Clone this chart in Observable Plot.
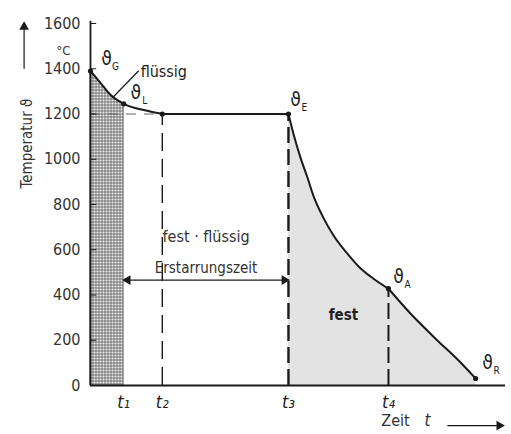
<!DOCTYPE html>
<html><head><meta charset="utf-8">
<script src="https://cdn.jsdelivr.net/npm/d3@7"></script>
<script src="https://cdn.jsdelivr.net/npm/@observablehq/plot@0.6"></script>
<style>body{margin:0;background:#fff}</style>
</head><body><div id="chart"></div>
<script>
// ---- data ----
const timeT = [0, 2.4, 4.8, 8, 13.7, 17.3, 47.7, 48.9, 50.6, 52.3, 53.7, 56.1, 58.6, 61.9, 65.1, 68.2, 71.8, 77.1, 83.6, 88.4, 92.8];
const tempC = [1390, 1338, 1285, 1245, 1214, 1200, 1200, 1113, 1007, 918, 839, 742, 662, 583, 517, 472, 428, 318, 199, 116, 31];
const tNames = ["t₁", "t₂", "t₃", "t₄"];
const tValues = [8, 17.3, 47.7, 71.8];
const yTicks = [0, 200, 400, 600, 800, 1000, 1200, 1400, 1600];
const pointNames = ["G", "L", "E", "A", "R"];
const pointT = [0, 8, 47.7, 71.8, 92.8];
const pointTemp = [1390, 1245, 1200, 428, 31];
const cornerT = [17.3];
const cornerTemp = [1200];
const leaderT = [5.3, 11.6];
const leaderTemp = [1272, 1391];
const arrowTemp = 466;
const festTemp = 309;

const rows = timeT.map((t, i) => ({t, v: tempC[i]}));
const iE = timeT.indexOf(tValues[2]);
const iA = timeT.indexOf(tValues[3]);
const seg1 = rows.slice(0, 6);
const seg2 = rows.slice(5, iE + 1);
const seg3 = rows.slice(iE, iA + 1);
const seg4 = rows.slice(iA);
const stippleRows = rows.filter(d => d.t <= tValues[0]);
const dots = pointT.map((t, i) => ({t, v: pointTemp[i]})).concat(cornerT.map((t, i) => ({t, v: cornerTemp[i]})));

const ink = "#1a1a1a";
const offsets = {G: [16, -12], L: [12, -11], E: [7, -14], A: [10, -12], R: [12, -16]};
const labelMarks = pointNames.flatMap((n, i) => {
  const [dx, dy] = offsets[n];
  const d = [{t: pointT[i], v: pointTemp[i]}];
  return [
    Plot.text(d, {x: "t", y: "v", text: () => "ϑ", dx, dy, fontSize: 19, fill: ink}),
    Plot.text(d, {x: "t", y: "v", text: () => n, dx: dx + 9, dy: dy + 8, fontSize: 10, fill: ink})
  ];
});
const midT = (tValues[0] + tValues[2]) / 2;
const xMax = 100;

const chart = Plot.plot({
  width: 511,
  height: 434,
  marginLeft: 90,
  marginRight: 6,
  marginTop: 23,
  marginBottom: 49,
  style: {fontFamily: "'DejaVu Sans Condensed', 'DejaVu Sans', sans-serif", fontSize: "17px", color: "#222", background: "#fff"},
  x: {domain: [0, xMax], axis: null},
  y: {domain: [0, 1600], axis: null},
  marks: [
    Plot.areaY(seg3, {x: "t", y: "v", curve: "monotone-x", fill: "#e3e3e3"}),
    Plot.areaY(seg4, {x: "t", y: "v", curve: "monotone-x", fill: "#e3e3e3"}),
    Plot.areaY(stippleRows, {x: "t", y: "v", curve: "monotone-x", fill: "url(#stipple)", stroke: "#666", strokeWidth: 0.8}),
    Plot.ruleY([1200], {x1: 0, x2: tValues[1], stroke: "#666", strokeWidth: 1.2, strokeDasharray: "10,8"}),
    Plot.ruleX([tValues[1]], {y1: 0, y2: 1200, stroke: ink, strokeWidth: 1.4, strokeDasharray: "18,8"}),
    Plot.ruleX([tValues[2]], {y1: 0, y2: 1200, stroke: ink, strokeWidth: 2.4, strokeDasharray: "16,6"}),
    Plot.ruleX([tValues[3]], {y1: 0, y2: tempC[iA], stroke: ink, strokeWidth: 2, strokeDasharray: "16,6"}),
    Plot.ruleY(yTicks, {x1: 0, x2: 1.5, stroke: ink, strokeWidth: 1}),
    Plot.ruleX([0], {y1: 0, y2: 1610, stroke: ink, strokeWidth: 1.8}),
    Plot.ruleY([0], {x1: 0, x2: xMax, stroke: ink, strokeWidth: 1.8}),
    Plot.axisY(yTicks, {label: null, tickSize: 0, tickPadding: 10, fontSize: 16, fill: "#333", tickFormat: d => String(d)}),
    Plot.axisX(tValues, {label: null, tickSize: 0, tickPadding: 10, fontSize: 18, fontStyle: "italic", fill: "#222", tickFormat: d => tNames[tValues.indexOf(d)]}),
    Plot.line(seg1, {x: "t", y: "v", curve: "monotone-x", stroke: ink, strokeWidth: 2}),
    Plot.line(seg2, {x: "t", y: "v", stroke: ink, strokeWidth: 2}),
    Plot.line(seg3, {x: "t", y: "v", curve: "monotone-x", stroke: ink, strokeWidth: 2}),
    Plot.line(seg4, {x: "t", y: "v", curve: "monotone-x", stroke: ink, strokeWidth: 2}),
    Plot.dot(dots, {x: "t", y: "v", r: 2.6, fill: ink}),
    // leader for "flüssig"
    Plot.link([0], {x1: () => leaderT[0], y1: () => leaderTemp[0], x2: () => leaderT[1], y2: () => leaderTemp[1], stroke: ink, strokeWidth: 1.2}),
    Plot.text(["flüssig"], {x: leaderT[1], y: leaderTemp[1], textAnchor: "start", dx: 2, dy: 1, fontSize: 16, fill: "#222"}),
    // Erstarrungszeit double arrow
    Plot.link([0], {x1: () => tValues[0], x2: () => tValues[2], y1: () => arrowTemp, y2: () => arrowTemp, stroke: ink, strokeWidth: 1.2}),
    Plot.dot([0], {x: () => tValues[0], y: () => arrowTemp, symbol: "triangle", rotate: -90, r: 3.6, dx: 4, fill: ink, stroke: "none"}),
    Plot.dot([0], {x: () => tValues[2], y: () => arrowTemp, symbol: "triangle", rotate: 90, r: 3.6, dx: -4, fill: ink, stroke: "none"}),
    Plot.text(["Erstarrungszeit"], {x: midT, y: arrowTemp, dy: -12, fontSize: 15, fill: "#333"}),
    Plot.text(["fest · flüssig"], {x: midT, y: arrowTemp, dy: -43, fontSize: 16, fill: "#333"}),
    Plot.text(["fest"], {x: (tValues[2] + tValues[3]) / 2, y: festTemp, dx: 5, fontSize: 15, fontWeight: "bold", fill: "#222"}),
    ...labelMarks,
    Plot.text(["°C"], {frameAnchor: "top-left", textAnchor: "middle", dx: -27, dy: 22, fontSize: 13, fill: "#333"}),
    // y axis title with arrow
    Plot.text(["Temperatur ϑ"], {frameAnchor: "top-left", dx: -69, dy: 165, rotate: -90, textAnchor: "start", fontSize: 15, fill: "#333"}),
    Plot.link([0], {x1: () => -16, x2: () => -16, y1: () => 1400, y2: () => 1585, stroke: ink, strokeWidth: 1.2}),
    Plot.dot([0], {x: () => -16, y: () => 1585, symbol: "triangle", r: 3.6, fill: ink, stroke: "none"}),
    // x axis title with arrow
    Plot.text(["Zeit"], {frameAnchor: "bottom-right", textAnchor: "middle", dx: -110, dy: 40, fontSize: 16, fill: "#333"}),
    Plot.text(["t"], {frameAnchor: "bottom-right", textAnchor: "middle", dx: -78, dy: 40, fontSize: 17, fontStyle: "italic", fill: "#333"}),
    Plot.link([0], {x1: () => 86, x2: () => 98.5, y1: () => -177, y2: () => -177, stroke: ink, strokeWidth: 1.2}),
    Plot.dot([0], {x: () => 98.5, y: () => -177, symbol: "triangle", rotate: 90, r: 3.6, fill: ink, stroke: "none"})
  ]
});

const svg = d3.select(chart);
const defs = svg.insert("defs", ":first-child");
const p = defs.append("pattern").attr("id", "stipple").attr("width", 3).attr("height", 3).attr("patternUnits", "userSpaceOnUse");
p.append("rect").attr("width", 3).attr("height", 3).attr("fill", "#868686");
p.append("circle").attr("cx", 1.5).attr("cy", 1.5).attr("r", 1.05).attr("fill", "#eeeeee");
document.getElementById("chart").append(chart);
</script>
</body></html>
